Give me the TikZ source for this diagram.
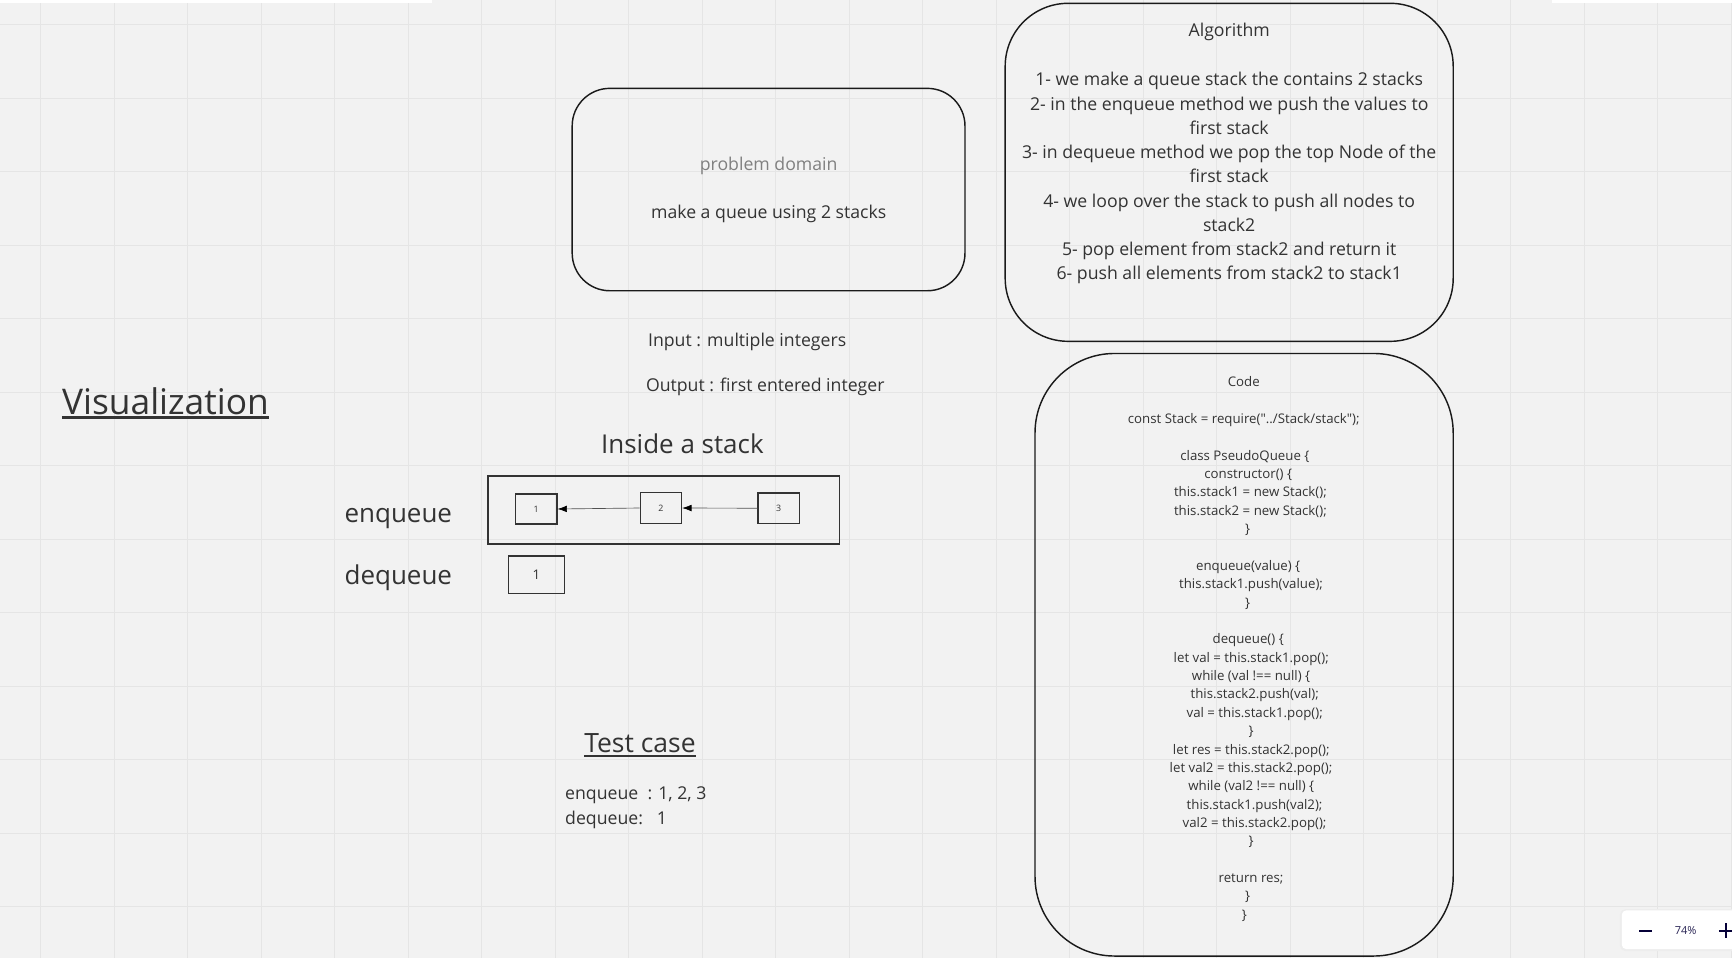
\documentclass[tikz,border=0pt]{standalone}
\usepackage{fontspec}
\setmainfont{Open Sans}
\newfontfamily\codefont{Open Sans}[Ligatures=TeXOff]
\usetikzlibrary{arrows.meta}
\definecolor{bg}{HTML}{F2F2F2}
\definecolor{gridc}{HTML}{E5E5E5}
\definecolor{txt}{HTML}{333333}
\definecolor{lgray}{HTML}{808080}
\definecolor{strokec}{HTML}{1A1A1A}
\definecolor{navy}{HTML}{050038}
\begin{document}
\begin{tikzpicture}[x=1pt,y=-1pt,
  lbl/.style={inner sep=0pt, anchor=base, text=txt},
  lblw/.style={inner sep=0pt, anchor=base west, text=txt},
  fA/.style={font=\fontsize{16}{20}\selectfont},
  fB/.style={font=\codefont\fontsize{12}{14}\selectfont},
  fC/.style={font=\fontsize{23.5}{28}\selectfont},
  bigbox/.style={draw=strokec, line width=1.3pt, rectangle, inner sep=0pt},
  cell/.style={draw=txt, line width=1.1pt, rectangle, inner sep=0pt, text=txt},
  arr/.style={draw=txt!85, line width=0.6pt, -{Latex[length=8.5pt,width=6pt,color=black]}},
  uline/.style={txt, line width=1.6pt},
]
% background and grid
\fill[bg] (0,0) rectangle (1568,867);
\useasboundingbox (0,0) rectangle (1568,867);
\foreach \i in {0,...,23} \draw[gridc, line width=0.9pt] ({36.75+66.54*\i},0) -- ({36.75+66.54*\i},867);
\foreach \j in {0,...,12} \draw[gridc, line width=0.9pt] (0,{22.6+66.54*\j}) -- (1568,{22.6+66.54*\j});
\fill[white] (0,0) rectangle (391,2.5);
\fill[white] (1405,0) rectangle (1568,2.5);

% problem domain
\node[bigbox, rounded corners=34pt, minimum width=355.6pt, minimum height=183.2pt] (pd) at (695.8,171.6) {};
\node[lbl, fA, text=lgray] (pdt) at (695.9,154.0) {problem domain};
\node[lbl, fA] (pdd) at (695.9,197.8) {make a queue using 2 stacks};
\node[lbl, fA] (inp) at (676.4,313.5) {Input : multiple integers};
\node[lbl, fA] (outp) at (692.8,354.3) {Output : first entered integer};

% algorithm
\node[bigbox, rounded corners=57pt, minimum width=405.6pt, minimum height=306pt] (alg) at (1112.8,156) {};
\node[lbl, fA] (a0) at (1112.8,32.8) {Algorithm};
\node[lbl, fA] (a1) at (1112.8,77.8) {1- we make a queue stack the contains 2 stacks};
\node[lbl, fA] (a2) at (1112.8,99.7) {2- in the enqueue method we push the values to};
\node[lbl, fA] (a3) at (1112.8,121.7) {first stack};
\node[lbl, fA] (a4) at (1112.8,143.6) {3- in dequeue method we pop the top Node of the};
\node[lbl, fA] (a5) at (1112.8,165.6) {first stack};
\node[lbl, fA] (a6) at (1112.8,187.5) {4- we loop over the stack to push all nodes to};
\node[lbl, fA] (a7) at (1112.8,209.4) {stack2};
\node[lbl, fA] (a8) at (1112.8,231.4) {5- pop element from stack2 and return it};
\node[lbl, fA] (a9) at (1112.8,253.3) {6- push all elements from stack2 to stack1};

% code
\node[bigbox, rounded corners=72pt, minimum width=378.6pt, minimum height=545.5pt] (code) at (1126.3,592.75) {};
\node[lbl, fB] (c0) at (1126.0,{350.2+16.62*0}) {Code};
\node[lbl, fB] (c2) at (1126.0,{350.2+16.62*2}) {const Stack = require("../Stack/stack");};
\node[lbl, fB] (c4) at (1127.0,{350.2+16.62*4}) {class PseudoQueue \{};
\node[lbl, fB] (c5) at (1130.0,{350.2+16.62*5}) {constructor() \{};
\node[lbl, fB] (c6) at (1132.0,{350.2+16.62*6}) {this.stack1 = new Stack();};
\node[lbl, fB] (c7) at (1132.0,{350.2+16.62*7}) {this.stack2 = new Stack();};
\node[lbl, fB] (c8) at (1129.5,{350.2+16.62*8}) {\}};
\node[lbl, fB] (c10) at (1130.0,{350.2+16.62*10}) {enqueue(value) \{};
\node[lbl, fB] (c11) at (1132.6,{350.2+16.62*11}) {this.stack1.push(value);};
\node[lbl, fB] (c12) at (1129.5,{350.2+16.62*12}) {\}};
\node[lbl, fB] (c14) at (1130.0,{350.2+16.62*14}) {dequeue() \{};
\node[lbl, fB] (c15) at (1132.8,{350.2+16.62*15}) {let val = this.stack1.pop();};
\node[lbl, fB] (c16) at (1132.6,{350.2+16.62*16}) {while (val !== null) \{};
\node[lbl, fB] (c17) at (1135.9,{350.2+16.62*17}) {this.stack2.push(val);};
\node[lbl, fB] (c18) at (1135.9,{350.2+16.62*18}) {val = this.stack1.pop();};
\node[lbl, fB] (c19) at (1132.6,{350.2+16.62*19}) {\}};
\node[lbl, fB] (c20) at (1132.8,{350.2+16.62*20}) {let res = this.stack2.pop();};
\node[lbl, fB] (c21) at (1132.6,{350.2+16.62*21}) {let val2 = this.stack2.pop();};
\node[lbl, fB] (c22) at (1132.8,{350.2+16.62*22}) {while (val2 !== null) \{};
\node[lbl, fB] (c23) at (1135.8,{350.2+16.62*23}) {this.stack1.push(val2);};
\node[lbl, fB] (c24) at (1135.8,{350.2+16.62*24}) {val2 = this.stack2.pop();};
\node[lbl, fB] (c25) at (1132.6,{350.2+16.62*25}) {\}};
\node[lbl, fB] (c27) at (1132.6,{350.2+16.62*27}) {return res;};
\node[lbl, fB] (c28) at (1129.5,{350.2+16.62*28}) {\}};
\node[lbl, fB] (c29) at (1126.6,{350.2+16.62*29}) {\}};

% visualization
\node[lblw, font=\fontsize{32}{38}\selectfont] (vis) at (56,375.0) {Visualization};
\draw[uline, line width=1.9pt] ([yshift=-3pt]vis.base west) -- ([yshift=-3pt]vis.base east);
\node[lbl, fC] (ins) at (617.8,410.8) {Inside a stack};
\node[lbl, fC] (enq) at (360.6,473.3) {enqueue};
\node[lbl, fC] (deq) at (360.6,529.2) {dequeue};

\node[bigbox, draw=txt, line width=1.4pt, minimum width=318pt, minimum height=61.6pt] (stk) at (600.8,461.7) {};
\node[cell, minimum width=37.8pt, minimum height=27.2pt, font=\fontsize{8}{9}\selectfont] (b1) at (485.3,460.8) {1};
\node[cell, minimum width=37.4pt, minimum height=27.8pt, font=\fontsize{8}{9}\selectfont] (b2) at (598.3,459.9) {2};
\node[cell, minimum width=37.4pt, minimum height=27.4pt, font=\fontsize{8}{9}\selectfont] (b3) at (704.9,460.1) {3};
\draw[arr] (b2.west) -- (b1.east);
\draw[arr] (b3.west) -- (b2.east);
\node[cell, minimum width=50.2pt, minimum height=33.7pt, font=\fontsize{12}{14}\selectfont] (d1) at (485.6,520.25) {1};

% test case
\node[lbl, font=\fontsize{24}{28}\selectfont] (tc) at (579.4,681.3) {Test case};
\draw[uline] ([yshift=-3.4pt]tc.base west) -- ([yshift=-3.4pt]tc.base east);
\node[lblw, fA] (te) at (511.5,724.0) {enqueue\ \ : 1, 2, 3};
\node[lblw, fA] (td) at (511.5,746.0) {dequeue:\ \ \ 1};

% zoom widget
\fill[black!7, rounded corners=5pt] (1466.5,823) rectangle (1580,861);
\node[fill=white, rounded corners=4pt, inner sep=0pt, minimum width=110pt, minimum height=35pt, anchor=north west] (zw) at (1468,824) {};
\draw[navy, line width=1.8pt] (1484,842.4) -- (1496,842.4);
\node[lbl, text=navy!85, font=\fontsize{10}{12}\selectfont] (zp) at (1526,846.2) {74\%};
\draw[navy, line width=1.8pt] (1556,842.4) -- (1568.6,842.4) (1562.3,836) -- (1562.3,848.8);
\end{tikzpicture}
\end{document}
